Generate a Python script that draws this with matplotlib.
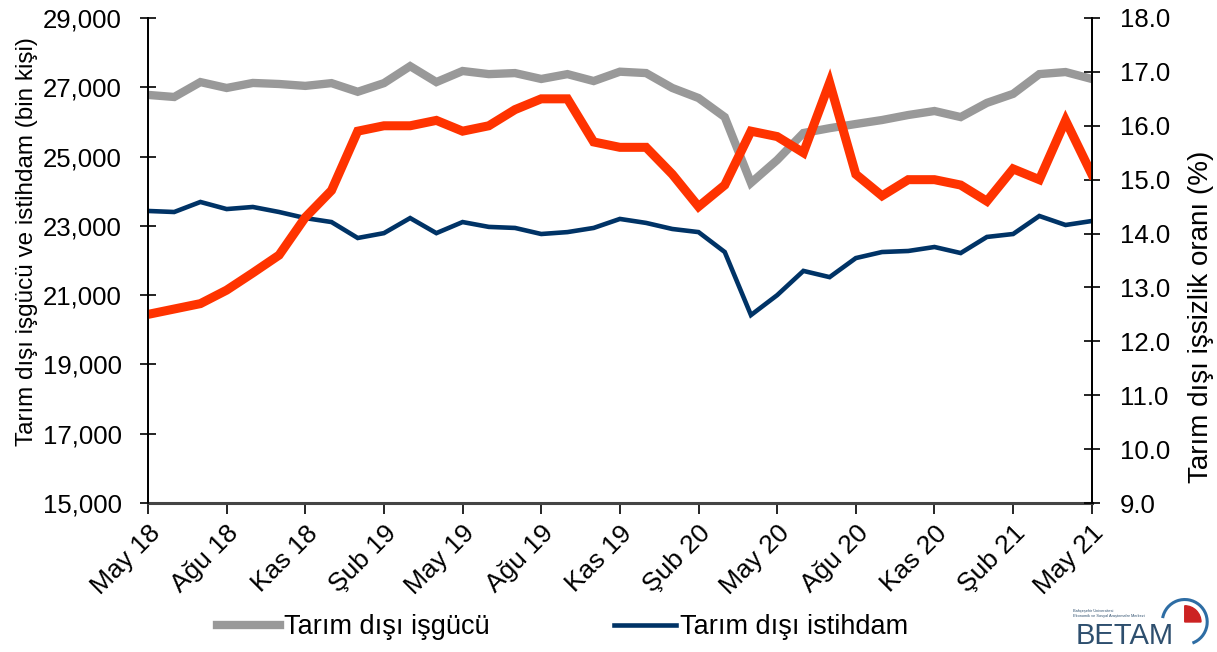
import matplotlib
matplotlib.use('Agg')
import matplotlib.pyplot as plt
from matplotlib.patches import Arc, Wedge
from matplotlib.ticker import FuncFormatter

plt.rcParams['font.family'] = ['Liberation Sans', 'DejaVu Sans']

# monthly data, May 2018 - May 2021
months = ['May 18', 'Haz 18', 'Tem 18', 'Ağu 18', 'Eyl 18', 'Eki 18', 'Kas 18', 'Ara 18',
          'Oca 19', 'Şub 19', 'Mar 19', 'Nis 19', 'May 19', 'Haz 19', 'Tem 19', 'Ağu 19',
          'Eyl 19', 'Eki 19', 'Kas 19', 'Ara 19', 'Oca 20', 'Şub 20', 'Mar 20', 'Nis 20',
          'May 20', 'Haz 20', 'Tem 20', 'Ağu 20', 'Eyl 20', 'Eki 20', 'Kas 20', 'Ara 20',
          'Oca 21', 'Şub 21', 'Mar 21', 'Nis 21', 'May 21']

isgucu = [26780, 26720, 27150, 26980, 27125, 27095, 27040, 27120, 26870, 27120,
          27610, 27150, 27470, 27380, 27410, 27240, 27380, 27180, 27450, 27410,
          26980, 26690, 26140, 24240, 24900, 25680, 25820, 25940, 26055, 26200,
          26315, 26140, 26550, 26810, 27380, 27440, 27240]

istihdam = [23430, 23400, 23690, 23485, 23545, 23400, 23225, 23110, 22650, 22790,
            23225, 22790, 23110, 22970, 22940, 22765, 22820, 22940, 23200, 23085,
            22910, 22820, 22245, 20425, 21000, 21700, 21520, 22070, 22245, 22275,
            22390, 22215, 22680, 22765, 23285, 23025, 23140]

issizlik = [12.5, 12.6, 12.7, 12.95, 13.27, 13.6, 14.3, 14.8, 15.9, 16.0,
            16.0, 16.1, 15.9, 16.0, 16.3, 16.5, 16.5, 15.7, 15.6, 15.6,
            15.1, 14.5, 14.9, 15.9, 15.8, 15.5, 16.8, 15.1, 14.7, 15.0,
            15.0, 14.9, 14.6, 15.2, 15.0, 16.1, 15.1]

fig = plt.figure(figsize=(12.17, 6.52), dpi=100)
ax = fig.add_axes([0.1216, 0.2285, 0.7755, 0.7439])
ax2 = ax.twinx()

x = list(range(len(months)))
l1, = ax.plot(x, isgucu, color='#999999', lw=6, solid_joinstyle='miter', label='Tarım dışı işgücü')
l2, = ax.plot(x, istihdam, color='#003366', lw=3.3, solid_joinstyle='miter', label='Tarım dışı istihdam')
ax2.plot(x, issizlik, color='#FF3300', lw=6.5, solid_joinstyle='miter')

ax.set_xlim(0, 36)
ax.set_ylim(15000, 29000)
ax.set_yticks(range(15000, 29001, 2000))
ax.yaxis.set_major_formatter(FuncFormatter(lambda v, p: '{:,.0f}'.format(v)))
ax2.set_ylim(9, 18)
ax2.set_yticks([9 + i for i in range(10)])
ax2.yaxis.set_major_formatter(FuncFormatter(lambda v, p: '{:.1f}'.format(v)))

ax.set_xticks(x[::3])
ax.set_xticklabels(months[::3], rotation=45, ha='right', rotation_mode='anchor', fontsize=19)

for a in (ax, ax2):
	a.spines['top'].set_visible(False)
	a.spines['left'].set_linewidth(1.3)
	a.spines['right'].set_linewidth(1.3)
	a.spines['bottom'].set_linewidth(2.2)
	a.spines['bottom'].set_color('#444444')
	a.tick_params(axis='y', direction='inout', length=12, width=1.2, labelsize=18.5)
ax.tick_params(axis='y', pad=13)
ax2.tick_params(axis='y', pad=14)
ax.tick_params(axis='x', direction='out', length=8, width=1.2, pad=5)
ax2.spines['bottom'].set_visible(False)

# label anchors: left one at its right edge, right one at its left edge
ax.set_ylabel('Tarım dışı işgücü ve istihdam (bin kişi)', fontsize=17.5)
ax.yaxis.set_label_coords(-0.1165, 0.54)
ax2.set_ylabel('Tarım dışı işsizlik oranı (%)', fontsize=20)
ax2.yaxis.set_label_coords(1.1017, 0.383)

fig.legend(handles=[l1, l2], loc='center', bbox_to_anchor=(0.4626, 0.038), ncol=2,
           frameon=False, fontsize=19.5, handlelength=2.3, handletextpad=0.15,
           columnspacing=4.6)

# BETAM logo
fig.text(0.924, 0.003, 'BETAM', color='#2e4f6e', fontsize=21, ha='center', va='bottom')
fig.text(0.882, 0.052, 'Bahçeşehir Üniversitesi\nEkonomik ve Sosyal Araştırmalar Merkezi',
         color='#2e4f6e', fontsize=2.8, ha='left', va='bottom')
lax = fig.add_axes([0.953, 0.0077, 0.041, 0.0767])
lax.set_xlim(-1, 1)
lax.set_ylim(-1, 1)
lax.set_aspect('equal')
lax.axis('off')
lax.add_patch(Arc((0, 0), 1.8, 1.8, theta1=-70, theta2=170, color='#2e6da4', lw=2.2))
lax.add_patch(Wedge((0, 0), 0.65, 0, 90, color='#cc2222'))

fig.savefig('out.png', dpi=100)
